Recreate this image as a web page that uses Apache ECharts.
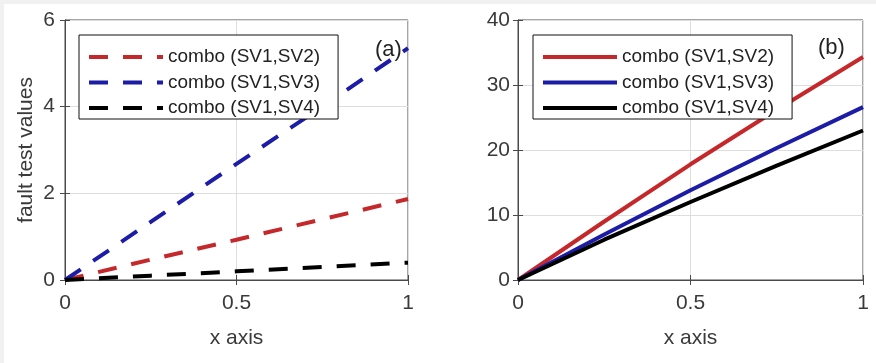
<!DOCTYPE html>
<html>
<head>
<meta charset="utf-8">
<script src="https://cdn.jsdelivr.net/npm/echarts@6/dist/echarts.min.js"></script>
<style>
html,body{margin:0;padding:0;background:#fff;}
#c{width:876px;height:363px;}
</style>
</head>
<body>
<div id="c"></div>
<script>
// ---- data ----
var xValues = [0, 0.25, 0.5, 0.75, 1];
var seriesNames = ['combo (SV1,SV2)', 'combo (SV1,SV3)', 'combo (SV1,SV4)'];
// panel (a)
var aSV2 = [0, 0.47, 0.93, 1.40, 1.87];
var aSV3 = [0, 1.34, 2.68, 4.00, 5.35];
var aSV4 = [0, 0.10, 0.20, 0.30, 0.40];
// panel (b)
var bSV2 = [0, 9.0, 17.8, 26.2, 34.3];
var bSV3 = [0, 7.0, 13.8, 20.3, 26.6];
var bSV4 = [0, 6.2, 12.0, 17.6, 23.0];
var xTicks = [0, 0.5, 1];
var aYTicks = [0, 2, 4, 6];
var bYTicks = [0, 10, 20, 30, 40];
var panelLabels = ['(a)', '(b)'];
var xName = 'x axis';
var yName = 'fault test values';

function pairs(ys) { return xValues.map(function (x, i) { return [x, ys[i]]; }); }

var FONT = "'Liberation Sans', Arial, sans-serif";
var RED = '#c4282b', BLUE = '#1c1ca6', BLACK = '#000000';
var AX = '#4a4a4a', LBL = '#3a3a3a', GRIDC = '#dedede';

function xAx(gi, pos, showName) {
  return {
    type: 'value', gridIndex: gi, position: pos,
    min: xTicks[0], max: xTicks[xTicks.length - 1], interval: xTicks[1] - xTicks[0],
    axisLine: { show: true, lineStyle: { color: AX, width: 1 } },
    axisTick: { show: true, inside: true, length: 5, lineStyle: { color: AX } },
    axisLabel: { show: pos === 'bottom', color: LBL, fontSize: 21, fontFamily: FONT, margin: 13 },
    splitLine: { show: pos === 'bottom', lineStyle: { color: GRIDC, width: 1 } },
    name: showName ? xName : '', nameLocation: 'middle', nameGap: 48,
    nameTextStyle: { color: LBL, fontSize: 21, fontFamily: FONT }
  };
}
function yAx(gi, pos, ticks, margin, showName) {
  return {
    type: 'value', gridIndex: gi, position: pos,
    min: ticks[0], max: ticks[ticks.length - 1], interval: ticks[1] - ticks[0],
    axisLine: { show: true, lineStyle: { color: AX, width: 1 } },
    axisTick: { show: true, inside: true, length: 5, lineStyle: { color: AX } },
    axisLabel: { show: pos === 'left', color: LBL, fontSize: 21, fontFamily: FONT, margin: margin },
    splitLine: { show: pos === 'left', lineStyle: { color: GRIDC, width: 1 } },
    name: showName ? yName : '', nameLocation: 'middle', nameGap: 28,
    nameTextStyle: { color: LBL, fontSize: 21, fontFamily: FONT }
  };
}
function ser(name, data, color, dashed, gi) {
  return {
    type: 'line', name: name, data: pairs(data),
    xAxisIndex: gi * 2, yAxisIndex: gi * 2,
    symbol: 'none', showSymbol: false, smooth: false, animation: false,
    lineStyle: { color: color, width: 4, type: dashed ? [19, 15] : 'solid' },
    itemStyle: { color: color },
    z: 3
  };
}
function legendCfg(left, names) {
  return {
    orient: 'vertical', left: left, top: 35,
    data: names.map(function (n) { return { name: n, itemStyle: { opacity: 0 } }; }),
    itemWidth: 74, itemHeight: 20, itemGap: 5.5,
    padding: [12, 18, 1, 8],
    backgroundColor: '#fff', borderColor: '#111', borderWidth: 1, borderRadius: 0,
    itemStyle: { opacity: 0 },
    lineStyle: { width: 4 },
    textStyle: { color: '#222', fontSize: 19, fontFamily: FONT, lineHeight: 20 },
    selectedMode: false
  };
}

var chart = echarts.init(document.getElementById('c'), null, { renderer: 'canvas' });

var aNames = seriesNames.map(function (n) { return n; });
var bNames = seriesNames.map(function (n) { return n + '\u200B'; });

chart.setOption({
  backgroundColor: '#ffffff',
  animation: false,
  grid: [
    { left: 65, top: 20, width: 343, height: 260, show: true, borderColor: AX, borderWidth: 1, containLabel: false },
    { left: 518, top: 20, width: 345, height: 260, show: true, borderColor: AX, borderWidth: 1, containLabel: false }
  ],
  xAxis: [xAx(0, 'bottom', true), xAx(0, 'top', false), xAx(1, 'bottom', true), xAx(1, 'top', false)],
  yAxis: [yAx(0, 'left', aYTicks, 10, true), yAx(0, 'right', aYTicks, 10, false),
          yAx(1, 'left', bYTicks, 8, false), yAx(1, 'right', bYTicks, 8, false)],
  legend: [legendCfg(79, aNames), legendCfg(533, bNames)],
  title: [
    { text: panelLabels[0], left: 370, top: 34, textStyle: { fontSize: 22, fontWeight: 'normal', color: '#222', fontFamily: FONT } },
    { text: panelLabels[1], left: 813, top: 32, textStyle: { fontSize: 22, fontWeight: 'normal', color: '#222', fontFamily: FONT } }
  ],
  graphic: [
    { type: 'rect', left: 0, top: 0, shape: { width: 876, height: 4 }, style: { fill: '#f1f1f1' }, silent: true, z: -10 },
    { type: 'rect', left: 0, top: 0, shape: { width: 4, height: 363 }, style: { fill: '#f1f1f1' }, silent: true, z: -10 }
  ],
  series: [
    ser(aNames[0], aSV2, RED, true, 0),
    ser(aNames[1], aSV3, BLUE, true, 0),
    ser(aNames[2], aSV4, BLACK, true, 0),
    ser(bNames[0], bSV2, RED, false, 1),
    ser(bNames[1], bSV3, BLUE, false, 1),
    ser(bNames[2], bSV4, BLACK, false, 1)
  ]
});
</script>
</body>
</html>
